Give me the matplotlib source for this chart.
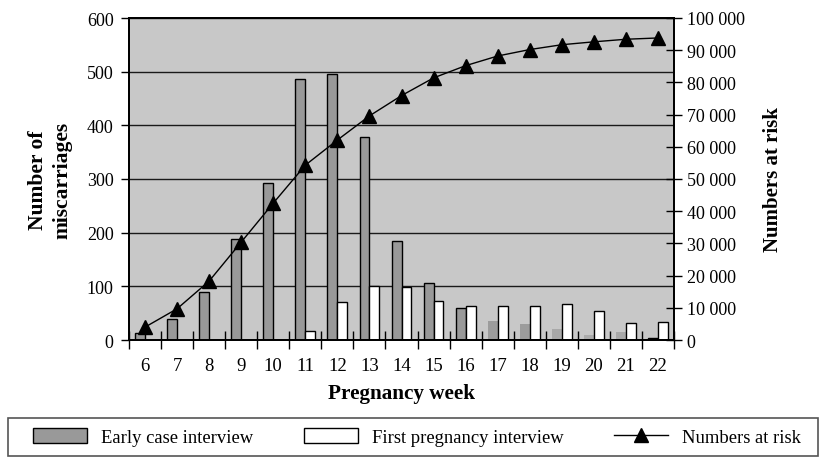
#!/usr/bin/env python3
"""
Miscarriages by pregnancy week, with numbers at risk
"""
import matplotlib
matplotlib.use('Agg')
import matplotlib.pyplot as plt
from matplotlib.patches import Rectangle
from matplotlib.ticker import FuncFormatter

# Data
weeks = [6, 7, 8, 9, 10, 11, 12, 13, 14, 15, 16, 17, 18, 19, 20, 21, 22]
early_case = [13, 40, 89, 188, 293, 487, 496, 378, 184, 107, 60, 36, 29, 20, 10, 14, 4]
first_pregnancy = [0, 0, 0, 0, 0, 17, 71, 101, 99, 73, 63, 63, 64, 67, 54, 31, 34]
numbers_at_risk = [4000, 9700, 18300, 30400, 42500, 54300, 62100, 69600, 75900,
                   81400, 85200, 88200, 90200, 91700, 92600, 93400, 93800]

plt.rcParams['font.family'] = ['Liberation Serif', 'DejaVu Serif']

fig = plt.figure(figsize=(8.21, 4.6), dpi=100)
ax = fig.add_axes([129 / 821, 1 - 341 / 460, 545 / 821, 322 / 460])
ax.set_facecolor('#c8c8c8')

pos = list(range(len(weeks)))
bw = 0.31
early_colors = ['#999999'] * 11 + ['#9c9c9c', '#9c9c9c', '#a8a8a8', '#acacac', '#a8a8a8', '#555555']
early_edges = ['black'] * 11 + ['none'] * 5 + ['black']
ax.bar(pos, early_case, width=-bw, align='edge', color=early_colors,
       edgecolor=early_edges, linewidth=1.0, zorder=2, label='Early case interview')
fp_pos = [p for p, v in zip(pos, first_pregnancy) if v > 0]
fp_val = [v for v in first_pregnancy if v > 0]
ax.bar(fp_pos, fp_val, width=bw, align='edge', color='white',
       edgecolor='black', linewidth=1.0, zorder=2, label='First pregnancy interview')

ax.set_xlim(-0.5, len(weeks) - 0.5)
ax.set_ylim(0, 600)
ax.set_yticks(range(0, 601, 100))
ax.yaxis.grid(True, color='#1a1a1a', linewidth=1.0)
ax.set_axisbelow(True)
ax.tick_params(axis='y', direction='out', length=6, width=1, labelsize=13, pad=5)

# boundaries get the ticks, centres get the labels
ax.set_xticks([p - 0.5 for p in pos] + [len(weeks) - 0.5])
ax.set_xticklabels([])
ax.set_xticks(pos, minor=True)
ax.set_xticklabels([str(w) for w in weeks], minor=True)
ax.tick_params(axis='x', which='major', direction='inout', length=13, width=1)
ax.tick_params(axis='x', which='minor', length=0, labelsize=13.5, pad=12)
for s in ax.spines.values():
    s.set_linewidth(1.3)

ax.set_xlabel('Pregnancy week', fontsize=15.2, fontweight='bold', labelpad=7)
ax.set_ylabel('Number of\nmiscarriages', fontsize=15.5, fontweight='bold',
              labelpad=10, linespacing=1.35)

ax2 = ax.twinx()
ax2.plot(pos, numbers_at_risk, color='black', linewidth=1.0, marker='^',
         markersize=10, label='Numbers at risk', zorder=3)
ax2.set_ylim(0, 100000)
ax2.set_yticks(range(0, 100001, 10000))
ax2.yaxis.set_major_formatter(FuncFormatter(lambda v, p: f'{int(v):,}'.replace(',', ' ')))
ax2.tick_params(axis='y', direction='inout', length=12, width=1, labelsize=13, pad=3)
ax2.set_ylabel('Numbers at risk', fontsize=15, fontweight='bold', labelpad=13)
for s in ax2.spines.values():
    s.set_linewidth(1.3)

# legend in a box across the bottom
fig.add_artist(Rectangle((8 / 821, 3 / 460), 810 / 821, 38 / 460, transform=fig.transFigure,
                         facecolor='none', edgecolor='#555555', linewidth=1.2))
h1, l1 = ax.get_legend_handles_labels()
h2, l2 = ax2.get_legend_handles_labels()
fig.legend(h1 + h2, l1 + l2, loc='center', ncol=3, mode='expand',
           bbox_to_anchor=(26 / 821, 5 / 460, 782 / 821, 34 / 460),
           frameon=False, fontsize=13.4, handlelength=2.9, handleheight=0.85,
           handletextpad=0.75, borderaxespad=0)

plt.savefig('out.png', dpi=100)
print("saved out.png")
